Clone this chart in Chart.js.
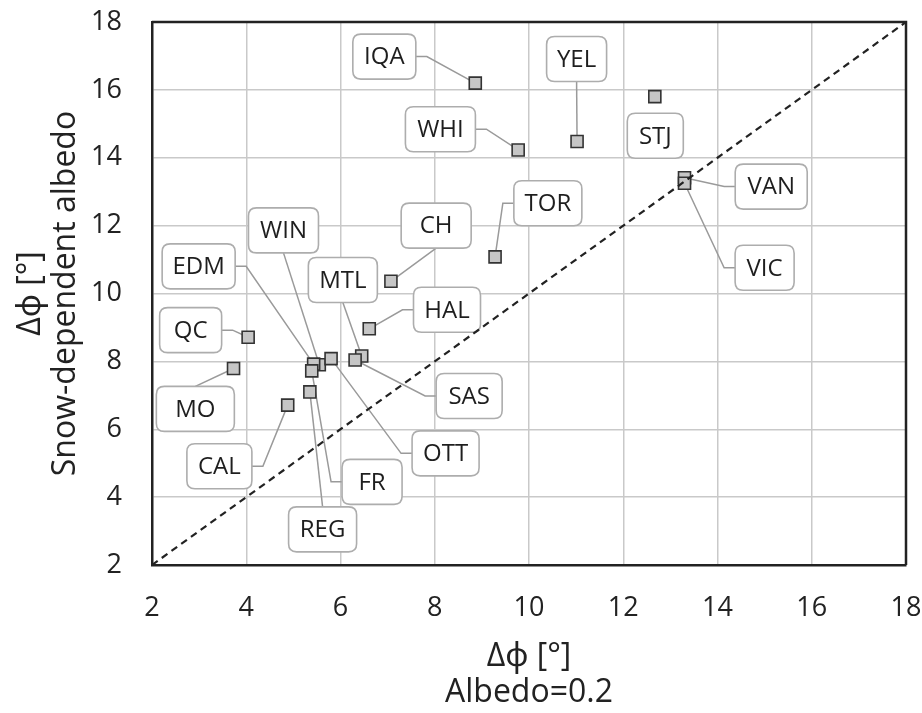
<!DOCTYPE html>
<html>
<head>
<meta charset="utf-8">
<script src="https://cdn.jsdelivr.net/npm/chart.js@4.4.1/dist/chart.umd.min.js"></script>
<style>
    html, body { margin: 0; padding: 0; background: #ffffff; }
    #wrap { width: 922px; height: 713px; }
</style>
</head>
<body>
<div id="wrap"><canvas id="albedo_x" width="922" height="713"></canvas></div>
<script>
// station codes
let stations = ['IQA', 'YEL', 'STJ', 'WHI', 'VAN', 'VIC', 'TOR', 'CH', 'WIN', 'EDM',
    'MTL', 'HAL', 'QC', 'MO', 'SAS', 'OTT', 'CAL', 'FR', 'REG'];
// delta phi [deg], albedo = 0.2
let albedoFixed = [8.86, 11.02, 12.67, 9.77, 13.30, 13.30, 9.28, 7.07, 5.55, 5.43,
    6.45, 6.61, 4.04, 3.73, 6.31, 5.80, 4.88, 5.39, 5.35];
// delta phi [deg], snow-dependent albedo
let albedoSnow = [16.20, 14.48, 15.80, 14.23, 13.41, 13.25, 11.08, 10.36, 7.90, 7.92,
    8.16, 8.96, 8.71, 7.79, 8.04, 8.08, 6.71, 7.72, 7.10];
// 1:1 reference line
let refLine = [2, 18];
let ticks = [2, 4, 6, 8, 10, 12, 14, 16, 18];

// where each callout box sits (axis units), its width in px and the side the leader leaves from
let calloutX = [6.93, 11.01, 12.68, 8.12, 15.14, 15.00, 10.40, 8.03, 4.79, 2.99,
    6.05, 8.26, 2.82, 2.92, 8.73, 8.23, 3.43, 6.67, 5.62];
let calloutY = [16.98, 16.91, 14.65, 14.84, 13.15, 10.76, 12.66, 12.00, 11.86, 10.80,
    10.40, 9.52, 8.92, 6.60, 6.98, 5.29, 4.91, 4.45, 3.05];
let calloutW = [63, 60, 56, 70, 72, 59, 68, 70, 70, 73, 69, 67, 62, 78, 66, 67, 65, 60, 68];
let calloutSide = ['right', 'bottom', 'none', 'right', 'left', 'left', 'left', 'bottom', 'bottom', 'right',
    'bottom', 'left', 'right', 'top', 'left', 'left', 'right', 'left', 'top'];

const FONT = "'Open Sans', 'Noto Sans', sans-serif";

let points = [];
for (let i = 0; i < stations.length; i++) {
    points.push({ x: albedoFixed[i], y: albedoSnow[i] });
}

function roundRect(ctx, x, y, w, h, r) {
    ctx.beginPath();
    ctx.moveTo(x + r, y);
    ctx.lineTo(x + w - r, y);
    ctx.quadraticCurveTo(x + w, y, x + w, y + r);
    ctx.lineTo(x + w, y + h - r);
    ctx.quadraticCurveTo(x + w, y + h, x + w - r, y + h);
    ctx.lineTo(x + r, y + h);
    ctx.quadraticCurveTo(x, y + h, x, y + h - r);
    ctx.lineTo(x, y + r);
    ctx.quadraticCurveTo(x, y, x + r, y);
    ctx.closePath();
}

// frame on top/right + leader lines and callout boxes
let calloutPlugin = {
    id: 'callouts',
    beforeDatasetsDraw(chart) {
        const ctx = chart.ctx;
        const xs = chart.scales.x;
        const ys = chart.scales.y;
        const area = chart.chartArea;
        ctx.save();
        ctx.strokeStyle = '#222';
        ctx.lineWidth = 2.5;
        ctx.beginPath();
        ctx.moveTo(area.left, area.top);
        ctx.lineTo(area.right, area.top);
        ctx.lineTo(area.right, area.bottom);
        ctx.stroke();

        const h = 45;
        const stub = 11;
        for (let i = 0; i < stations.length; i++) {
            let cx = xs.getPixelForValue(calloutX[i]);
            let cy = ys.getPixelForValue(calloutY[i]);
            let w = calloutW[i];
            let px = xs.getPixelForValue(albedoFixed[i]);
            let py = ys.getPixelForValue(albedoSnow[i]);
            let side = calloutSide[i];
            // leader
            if (side != 'none') {
                ctx.strokeStyle = '#9a9a9a';
                ctx.lineWidth = 1.5;
                ctx.beginPath();
                if (side == 'right') {
                    ctx.moveTo(cx + w / 2, cy);
                    ctx.lineTo(cx + w / 2 + stub, cy);
                } else if (side == 'left') {
                    ctx.moveTo(cx - w / 2, cy);
                    ctx.lineTo(cx - w / 2 - stub, cy);
                } else if (side == 'top') {
                    ctx.moveTo(cx, cy - h / 2);
                } else {
                    ctx.moveTo(cx, cy + h / 2);
                }
                ctx.lineTo(px, py);
                ctx.stroke();
            }
        }
        for (let i = 0; i < stations.length; i++) {
            let cx = xs.getPixelForValue(calloutX[i]);
            let cy = ys.getPixelForValue(calloutY[i]);
            let w = calloutW[i];
            roundRect(ctx, cx - w / 2, cy - h / 2, w, h, 8);
            ctx.fillStyle = '#ffffff';
            ctx.fill();
            ctx.strokeStyle = '#adadad';
            ctx.lineWidth = 1.6;
            ctx.stroke();
            ctx.fillStyle = '#1e1e1e';
            ctx.font = '24px ' + FONT;
            ctx.textAlign = 'center';
            ctx.textBaseline = 'middle';
            ctx.fillText(stations[i], cx, cy + 1);
        }
        ctx.restore();
    }
};

let axisFont = { family: FONT, size: 27 };
let titleFont = { family: FONT, size: 32, lineHeight: 1.1 };

let optionx = {
    responsive: false,
    animation: false,
    layout: { padding: { top: 22, right: 16, left: 0, bottom: 0 } },
    plugins: {
        legend: { display: false },
        tooltip: { enabled: false },
    },
    scales: {
        x: {
            type: 'linear',
            min: 2,
            max: 18,
            afterFit: function (scale) {
                scale.height = 148;
                scale.paddingLeft = 0;
                scale.paddingRight = 0;
            },
            afterBuildTicks: function (scale) { scale.ticks = ticks.map(v => ({ value: v })); },
            grid: { color: '#c9c9c9', lineWidth: 1.5, drawTicks: false },
            border: { display: true, color: '#222', width: 2.5 },
            ticks: { font: axisFont, color: '#222', padding: 27, maxRotation: 0 },
            title: {
                display: true,
                text: ['Δϕ [°]', 'Albedo=0.2'],
                font: titleFont,
                color: '#222',
                padding: { top: 0, bottom: 3 },
            },
        },
        y: {
            type: 'linear',
            min: 2,
            max: 18,
            afterFit: function (scale) {
                scale.width = 152;
                scale.paddingTop = 0;
                scale.paddingBottom = 0;
            },
            afterBuildTicks: function (scale) { scale.ticks = ticks.map(v => ({ value: v })); },
            grid: { color: '#c9c9c9', lineWidth: 1.5, drawTicks: false },
            border: { display: true, color: '#222', width: 2.5 },
            ticks: { font: axisFont, color: '#222', padding: 30 },
            title: {
                display: true,
                text: ['Δϕ [°]', 'Snow-dependent albedo'],
                font: titleFont,
                color: '#222',
                padding: { top: 13, bottom: 0 },
            },
        },
    },
};

let data = {
    datasets: [
        {
            type: 'line',
            data: refLine.map(v => ({ x: v, y: v })),
            borderColor: '#222',
            borderWidth: 2.2,
            borderDash: [7, 5],
            pointRadius: 0,
            fill: false,
        },
        {
            type: 'scatter',
            data: points,
            pointStyle: 'rect',
            pointRadius: 8.5,
            backgroundColor: '#c6c6c6',
            borderColor: '#333',
            borderWidth: 1.6,
        },
    ],
};

var ctx = document.getElementById('albedo_x').getContext('2d');
var myChart = new Chart(ctx, {
    type: 'scatter',
    data: data,
    options: optionx,
    plugins: [calloutPlugin],
});
</script>
</body>
</html>
